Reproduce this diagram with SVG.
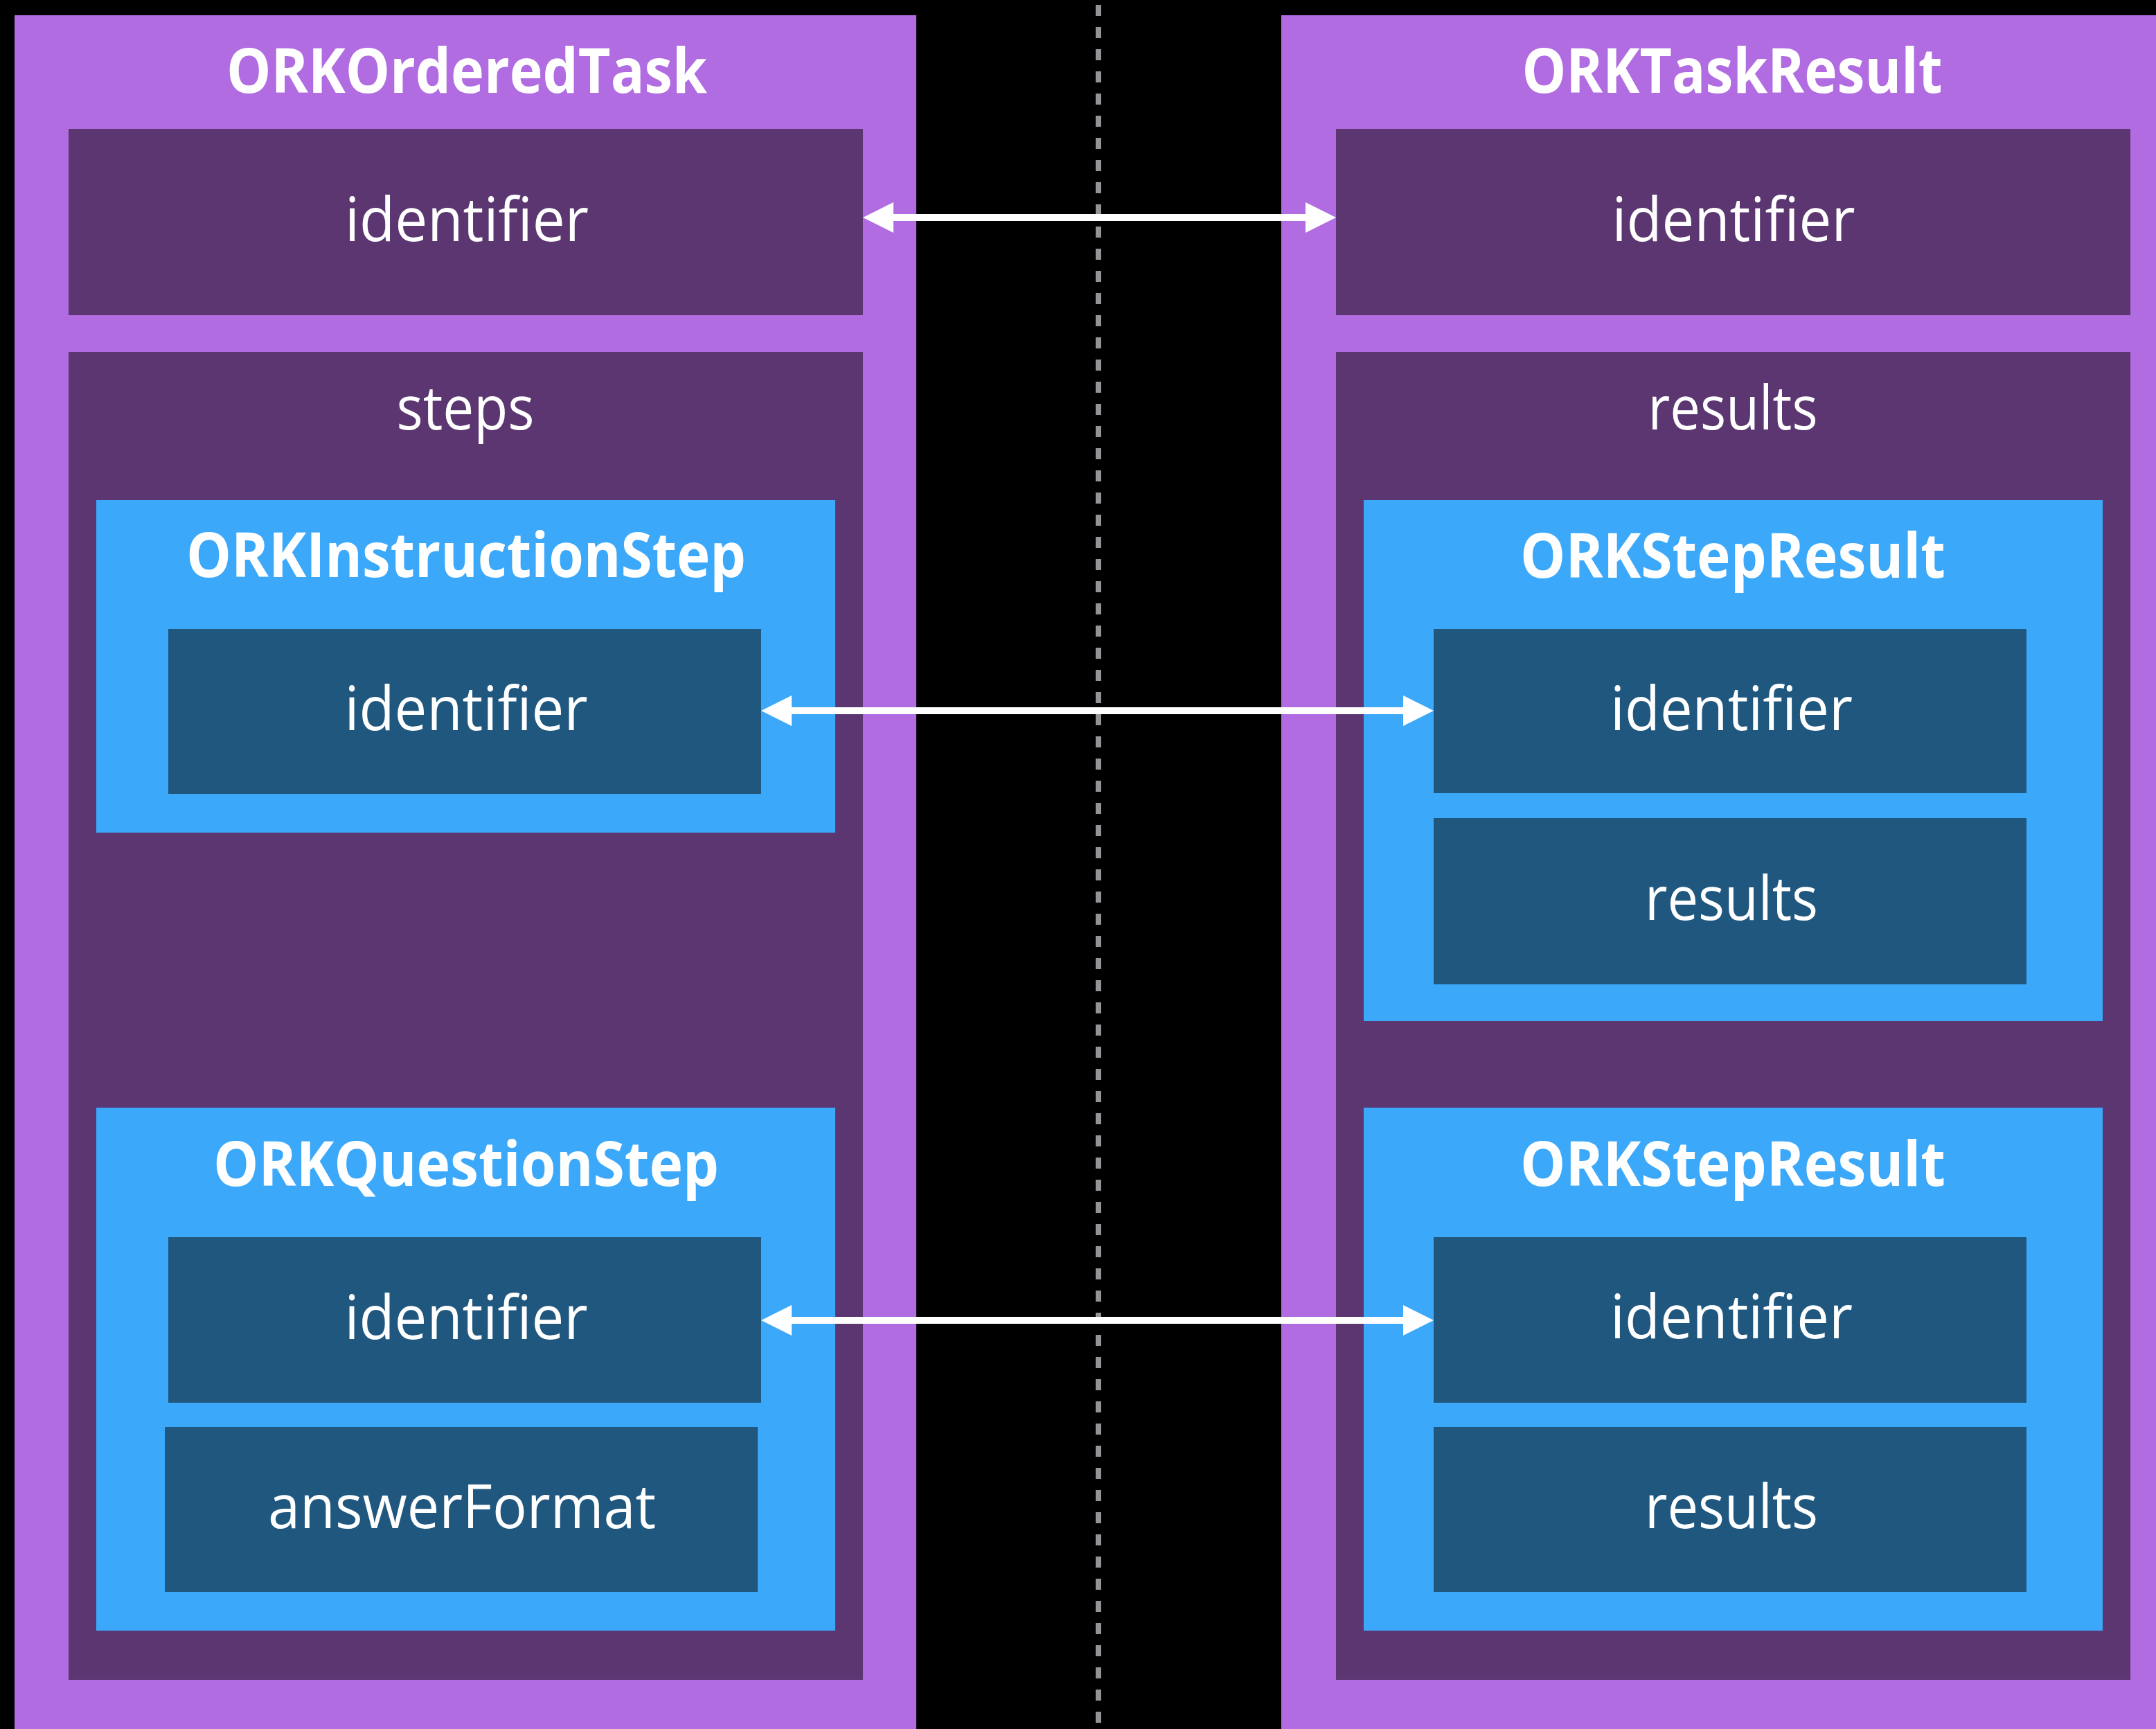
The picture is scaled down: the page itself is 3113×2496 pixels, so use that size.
<svg xmlns="http://www.w3.org/2000/svg" width="3113" height="2496" viewBox="0 0 3113 2496">
<defs>
<style>
.outer{fill:#B06CE0}
.section{fill:#5B3670}
.step{fill:#3BA8FA}
.field{fill:#1F577F}
.title{font-family:"Open Sans","Noto Sans","Liberation Sans",sans-serif;font-weight:bold;font-size:90px;fill:#FFFFFF;text-anchor:middle}
.label{font-family:"Open Sans","Noto Sans","Liberation Sans",sans-serif;font-weight:normal;font-size:88px;fill:#FFFFFF;text-anchor:middle}
.conn{stroke:#FFFFFF;stroke-width:10;fill:none}
</style>
<marker id="head" markerUnits="userSpaceOnUse" markerWidth="44" markerHeight="44" refX="4" refY="22" orient="auto-start-reverse" viewBox="0 0 44 44">
<path d="M0,0 L44,22 L0,44 Z" fill="#FFFFFF"/>
</marker>
</defs>
<rect x="0" y="0" width="3113" height="2496" fill="#000000"/>
<line x1="1586" y1="7" x2="1586" y2="2496" stroke="#939398" stroke-width="8" stroke-dasharray="16 16"/>

<g id="ORKOrderedTask">
<rect class="outer" x="21" y="22" width="1302" height="2480"/>
<text class="title" x="674" y="134" textLength="694" lengthAdjust="spacingAndGlyphs">ORKOrderedTask</text>
</g>
<g id="task-identifier">
<rect class="section" x="99" y="186" width="1147" height="269"/>
<text class="label" x="674" y="348" textLength="352" lengthAdjust="spacingAndGlyphs">identifier</text>
</g>
<g id="task-steps">
<rect class="section" x="99" y="508" width="1147" height="1917"/>
<text class="label" x="672" y="620" textLength="199" lengthAdjust="spacingAndGlyphs">steps</text>
</g>
<g id="ORKInstructionStep">
<rect class="step" x="139" y="722" width="1067" height="480"/>
<text class="title" x="673" y="833" textLength="808" lengthAdjust="spacingAndGlyphs">ORKInstructionStep</text>
</g>
<g id="instruction-identifier">
<rect class="field" x="243" y="908" width="856" height="238"/>
<text class="label" x="673" y="1054" textLength="351" lengthAdjust="spacingAndGlyphs">identifier</text>
</g>
<g id="ORKQuestionStep">
<rect class="step" x="139" y="1599" width="1067" height="755"/>
<text class="title" x="673" y="1712" textLength="730" lengthAdjust="spacingAndGlyphs">ORKQuestionStep</text>
</g>
<g id="question-identifier">
<rect class="field" x="243" y="1786" width="856" height="239"/>
<text class="label" x="673" y="1933" textLength="351" lengthAdjust="spacingAndGlyphs">identifier</text>
</g>
<g id="question-answerFormat">
<rect class="field" x="238" y="2060" width="856" height="238"/>
<text class="label" x="667" y="2206" textLength="560" lengthAdjust="spacingAndGlyphs">answerFormat</text>
</g>

<g id="ORKTaskResult">
<rect class="outer" x="1850" y="22" width="1280" height="2480"/>
<text class="title" x="2501" y="134" textLength="607" lengthAdjust="spacingAndGlyphs">ORKTaskResult</text>
</g>
<g id="result-identifier">
<rect class="section" x="1929" y="186" width="1147" height="269"/>
<text class="label" x="2503" y="348" textLength="351" lengthAdjust="spacingAndGlyphs">identifier</text>
</g>
<g id="result-results">
<rect class="section" x="1929" y="508" width="1147" height="1917"/>
<text class="label" x="2502" y="620" textLength="245" lengthAdjust="spacingAndGlyphs">results</text>
</g>
<g id="ORKStepResult-1">
<rect class="step" x="1969" y="722" width="1067" height="752"/>
<text class="title" x="2502" y="834" textLength="614" lengthAdjust="spacingAndGlyphs">ORKStepResult</text>
</g>
<g id="stepresult1-identifier">
<rect class="field" x="2070" y="908" width="856" height="237"/>
<text class="label" x="2500" y="1054" textLength="350" lengthAdjust="spacingAndGlyphs">identifier</text>
</g>
<g id="stepresult1-results">
<rect class="field" x="2070" y="1181" width="856" height="240"/>
<text class="label" x="2500" y="1328" textLength="250" lengthAdjust="spacingAndGlyphs">results</text>
</g>
<g id="ORKStepResult-2">
<rect class="step" x="1969" y="1599" width="1067" height="755"/>
<text class="title" x="2502" y="1712" textLength="614" lengthAdjust="spacingAndGlyphs">ORKStepResult</text>
</g>
<g id="stepresult2-identifier">
<rect class="field" x="2070" y="1786" width="856" height="239"/>
<text class="label" x="2500" y="1932" textLength="350" lengthAdjust="spacingAndGlyphs">identifier</text>
</g>
<g id="stepresult2-results">
<rect class="field" x="2070" y="2060" width="856" height="238"/>
<text class="label" x="2500" y="2206" textLength="250" lengthAdjust="spacingAndGlyphs">results</text>
</g>

<g id="connectors">
<line class="conn" x1="1286" y1="314" x2="1889" y2="314" marker-start="url(#head)" marker-end="url(#head)"/>
<line class="conn" x1="1139" y1="1026" x2="2030" y2="1026" marker-start="url(#head)" marker-end="url(#head)"/>
<line class="conn" x1="1139" y1="1906" x2="2030" y2="1906" marker-start="url(#head)" marker-end="url(#head)"/>
</g>
</svg>
